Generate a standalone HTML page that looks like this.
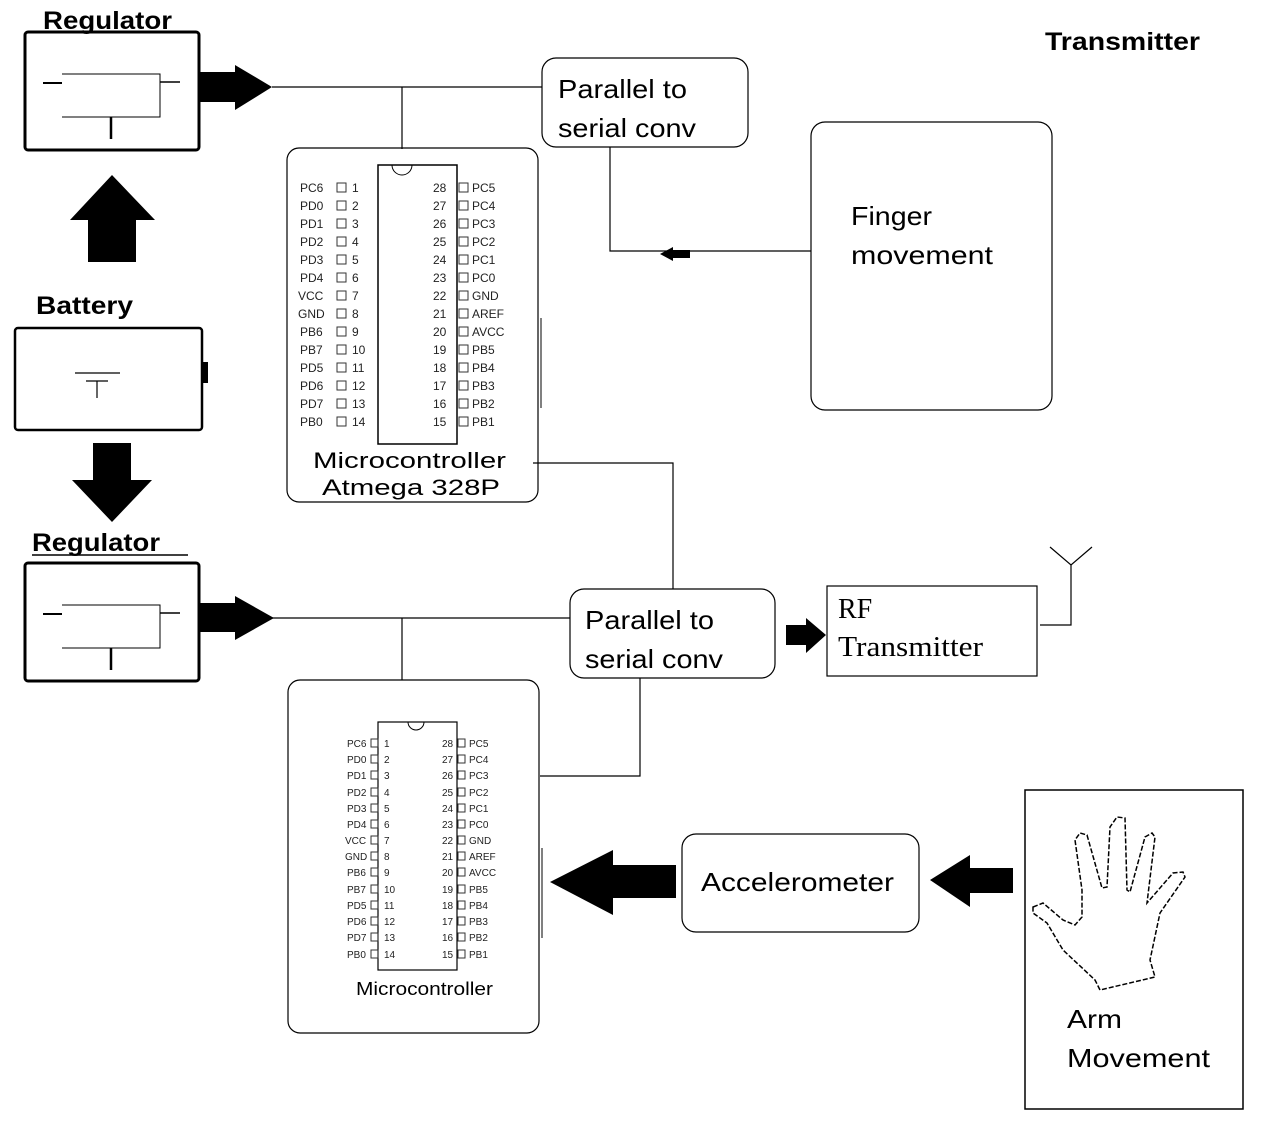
<!DOCTYPE html>
<html><head><meta charset="utf-8"><style>
html,body{margin:0;padding:0;background:#fff;}
svg{display:block;font-family:"Liberation Sans",sans-serif;}
.p1{font-size:12px;fill:#222;}
.p2{font-size:10px;fill:#222;}
</style></head><body>
<svg width="1274" height="1126" viewBox="0 0 1274 1126" xmlns="http://www.w3.org/2000/svg">
<rect width="1274" height="1126" fill="#fff"/>
<g fill="none" stroke="#000">
<rect x="25" y="32" width="174" height="118" rx="3" stroke-width="3"/>
<line x1="43" y1="83" x2="62" y2="83" stroke-width="2"/>
<path d="M62 74 H160 V117 H62" stroke-width="1"/>
<line x1="160" y1="82" x2="180" y2="82" stroke-width="1.5"/>
<line x1="111" y1="117" x2="111" y2="139" stroke-width="2.5"/>
<rect x="25" y="563" width="174" height="118" rx="3" stroke-width="3"/>
<line x1="43" y1="614" x2="62" y2="614" stroke-width="2"/>
<path d="M62 605 H160 V648 H62" stroke-width="1"/>
<line x1="160" y1="613" x2="180" y2="613" stroke-width="1.5"/>
<line x1="111" y1="648" x2="111" y2="670" stroke-width="2.5"/>
<line x1="32" y1="555" x2="188" y2="555" stroke-width="1.5"/>
<rect x="15" y="328" width="187" height="102" rx="3" stroke-width="2.5"/>
<line x1="75" y1="373" x2="120" y2="373" stroke-width="1.2"/>
<line x1="86" y1="381" x2="108" y2="381" stroke-width="1.2"/>
<line x1="97" y1="381" x2="97" y2="398" stroke-width="1.2"/>
<line x1="272" y1="87" x2="542" y2="87" stroke-width="1.2"/>
<line x1="402" y1="87" x2="402" y2="149" stroke-width="1.2"/>
<polyline points="610,147 610,251 811,251" stroke-width="1.2"/>
<polyline points="533,463 673,463 673,589" stroke-width="1.2"/>
<line x1="272" y1="618" x2="570" y2="618" stroke-width="1.2"/>
<line x1="402" y1="618" x2="402" y2="680" stroke-width="1.2"/>
<polyline points="640,678 640,776 540,776" stroke-width="1.2"/>
<polyline points="1040,625 1071,625 1071,565" stroke-width="1.2"/>
<polyline points="1050,547 1071,565 1092,547" stroke-width="1.2"/>
<rect x="542" y="58" width="206" height="89" rx="14" stroke-width="1.2"/>
<rect x="811" y="122" width="241" height="288" rx="14" stroke-width="1.2"/>
<rect x="287" y="148" width="251" height="354" rx="12" stroke-width="1.2"/>
<rect x="570" y="589" width="205" height="89" rx="14" stroke-width="1.2"/>
<rect x="827" y="586" width="210" height="90" stroke-width="1.2"/>
<rect x="288" y="680" width="251" height="353" rx="12" stroke-width="1.2"/>
<rect x="682" y="834" width="237" height="98" rx="14" stroke-width="1.2"/>
<rect x="1025" y="790" width="218" height="319" stroke-width="1.5"/>
<line x1="541" y1="318" x2="541" y2="408" stroke-width="1"/>
<line x1="542" y1="848" x2="542" y2="938" stroke-width="1"/>
<rect x="378" y="165" width="79" height="279" stroke-width="1.5"/>
<path d="M392 165 A10 10 0 0 0 412 165" stroke-width="1"/>
<rect x="378" y="722" width="79" height="248" stroke-width="1.2"/>
<path d="M408 722 A8 8 0 0 0 424 722" stroke-width="1"/>
<polygon stroke-width="1.5" stroke-dasharray="5,2" points="1033,907 1043,903 1063,920 1075,925 1082,917 1082,890 1075,840 1080,833 1087,835 1102,888 1107,887 1110,827 1117,817 1125,818 1127,890 1130,892 1145,837 1152,833 1155,837 1147,903 1173,873 1183,872 1185,877 1160,913 1150,960 1155,977 1100,990 1095,980 1063,950 1047,923 1033,913"/>
</g>
<g fill="none" stroke="#333" stroke-width="1">
<rect x="337" y="183" width="9" height="9"/><rect x="337" y="201" width="9" height="9"/><rect x="337" y="219" width="9" height="9"/><rect x="337" y="237" width="9" height="9"/><rect x="337" y="255" width="9" height="9"/><rect x="337" y="273" width="9" height="9"/><rect x="337" y="291" width="9" height="9"/><rect x="337" y="309" width="9" height="9"/><rect x="337" y="327" width="9" height="9"/><rect x="337" y="345" width="9" height="9"/><rect x="337" y="363" width="9" height="9"/><rect x="337" y="381" width="9" height="9"/><rect x="337" y="399" width="9" height="9"/><rect x="337" y="417" width="9" height="9"/>
<rect x="459" y="183" width="9" height="9"/><rect x="459" y="201" width="9" height="9"/><rect x="459" y="219" width="9" height="9"/><rect x="459" y="237" width="9" height="9"/><rect x="459" y="255" width="9" height="9"/><rect x="459" y="273" width="9" height="9"/><rect x="459" y="291" width="9" height="9"/><rect x="459" y="309" width="9" height="9"/><rect x="459" y="327" width="9" height="9"/><rect x="459" y="345" width="9" height="9"/><rect x="459" y="363" width="9" height="9"/><rect x="459" y="381" width="9" height="9"/><rect x="459" y="399" width="9" height="9"/><rect x="459" y="417" width="9" height="9"/>
</g>
<g fill="none" stroke="#333" stroke-width="1">
<rect x="371" y="739" width="7" height="8"/><rect x="371" y="755" width="7" height="8"/><rect x="371" y="771" width="7" height="8"/><rect x="371" y="788" width="7" height="8"/><rect x="371" y="804" width="7" height="8"/><rect x="371" y="820" width="7" height="8"/><rect x="371" y="836" width="7" height="8"/><rect x="371" y="852" width="7" height="8"/><rect x="371" y="868" width="7" height="8"/><rect x="371" y="885" width="7" height="8"/><rect x="371" y="901" width="7" height="8"/><rect x="371" y="917" width="7" height="8"/><rect x="371" y="933" width="7" height="8"/><rect x="371" y="950" width="7" height="8"/>
<rect x="458" y="739" width="7" height="8"/><rect x="458" y="755" width="7" height="8"/><rect x="458" y="771" width="7" height="8"/><rect x="458" y="788" width="7" height="8"/><rect x="458" y="804" width="7" height="8"/><rect x="458" y="820" width="7" height="8"/><rect x="458" y="836" width="7" height="8"/><rect x="458" y="852" width="7" height="8"/><rect x="458" y="868" width="7" height="8"/><rect x="458" y="885" width="7" height="8"/><rect x="458" y="901" width="7" height="8"/><rect x="458" y="917" width="7" height="8"/><rect x="458" y="933" width="7" height="8"/><rect x="458" y="950" width="7" height="8"/>
</g>
<g class="p1">
<text x="300" y="192">PC6</text><text x="300" y="210">PD0</text><text x="300" y="228">PD1</text><text x="300" y="246">PD2</text><text x="300" y="264">PD3</text><text x="300" y="282">PD4</text><text x="298" y="300">VCC</text><text x="298" y="318">GND</text><text x="300" y="336">PB6</text><text x="300" y="354">PB7</text><text x="300" y="372">PD5</text><text x="300" y="390">PD6</text><text x="300" y="408">PD7</text><text x="300" y="426">PB0</text>
<text x="352" y="192">1</text><text x="352" y="210">2</text><text x="352" y="228">3</text><text x="352" y="246">4</text><text x="352" y="264">5</text><text x="352" y="282">6</text><text x="352" y="300">7</text><text x="352" y="318">8</text><text x="352" y="336">9</text><text x="352" y="354">10</text><text x="352" y="372">11</text><text x="352" y="390">12</text><text x="352" y="408">13</text><text x="352" y="426">14</text>
<text x="433" y="192">28</text><text x="433" y="210">27</text><text x="433" y="228">26</text><text x="433" y="246">25</text><text x="433" y="264">24</text><text x="433" y="282">23</text><text x="433" y="300">22</text><text x="433" y="318">21</text><text x="433" y="336">20</text><text x="433" y="354">19</text><text x="433" y="372">18</text><text x="433" y="390">17</text><text x="433" y="408">16</text><text x="433" y="426">15</text>
<text x="472" y="192">PC5</text><text x="472" y="210">PC4</text><text x="472" y="228">PC3</text><text x="472" y="246">PC2</text><text x="472" y="264">PC1</text><text x="472" y="282">PC0</text><text x="472" y="300">GND</text><text x="472" y="318">AREF</text><text x="472" y="336">AVCC</text><text x="472" y="354">PB5</text><text x="472" y="372">PB4</text><text x="472" y="390">PB3</text><text x="472" y="408">PB2</text><text x="472" y="426">PB1</text>
</g>
<g class="p2">
<text x="347" y="747">PC6</text><text x="347" y="763">PD0</text><text x="347" y="779">PD1</text><text x="347" y="796">PD2</text><text x="347" y="812">PD3</text><text x="347" y="828">PD4</text><text x="345" y="844">VCC</text><text x="345" y="860">GND</text><text x="347" y="876">PB6</text><text x="347" y="893">PB7</text><text x="347" y="909">PD5</text><text x="347" y="925">PD6</text><text x="347" y="941">PD7</text><text x="347" y="958">PB0</text>
<text x="384" y="747">1</text><text x="384" y="763">2</text><text x="384" y="779">3</text><text x="384" y="796">4</text><text x="384" y="812">5</text><text x="384" y="828">6</text><text x="384" y="844">7</text><text x="384" y="860">8</text><text x="384" y="876">9</text><text x="384" y="893">10</text><text x="384" y="909">11</text><text x="384" y="925">12</text><text x="384" y="941">13</text><text x="384" y="958">14</text>
<text x="442" y="747">28</text><text x="442" y="763">27</text><text x="442" y="779">26</text><text x="442" y="796">25</text><text x="442" y="812">24</text><text x="442" y="828">23</text><text x="442" y="844">22</text><text x="442" y="860">21</text><text x="442" y="876">20</text><text x="442" y="893">19</text><text x="442" y="909">18</text><text x="442" y="925">17</text><text x="442" y="941">16</text><text x="442" y="958">15</text>
<text x="469" y="747">PC5</text><text x="469" y="763">PC4</text><text x="469" y="779">PC3</text><text x="469" y="796">PC2</text><text x="469" y="812">PC1</text><text x="469" y="828">PC0</text><text x="469" y="844">GND</text><text x="469" y="860">AREF</text><text x="469" y="876">AVCC</text><text x="469" y="893">PB5</text><text x="469" y="909">PB4</text><text x="469" y="925">PB3</text><text x="469" y="941">PB2</text><text x="469" y="958">PB1</text>
</g>
<g fill="#000">
<polygon points="199,72 235,72 235,65 272,87 235,110 235,102 199,102"/>
<polygon points="199,603 235,603 235,596 274,618 235,640 235,632 199,632"/>
<polygon points="70,220 112,175 155,220 136,220 136,262 88,262 88,220"/>
<polygon points="93,443 131,443 131,480 152,480 112,522 72,480 93,480"/>
<polygon points="660,254 673,247 673,250 690,250 690,258 673,258 673,261"/>
<polygon points="786,625 806,625 806,618 826,635 806,653 806,645 786,645"/>
<polygon points="550,882 613,850 613,865 676,865 676,898 613,898 613,915"/>
<polygon points="930,880 970,855 970,868 1013,868 1013,893 970,893 970,907"/>
<rect x="202" y="362" width="6" height="21"/>
</g>
<g font-family="'Liberation Sans',sans-serif" fill="#000">
<text x="43" y="29" font-size="25" font-weight="bold" textLength="129" lengthAdjust="spacingAndGlyphs">Regulator</text>
<text x="32" y="551" font-size="25" font-weight="bold" textLength="128" lengthAdjust="spacingAndGlyphs">Regulator</text>
<text x="36" y="314" font-size="25" font-weight="bold" textLength="97" lengthAdjust="spacingAndGlyphs">Battery</text>
<text x="1045" y="50" font-size="25" font-weight="bold" textLength="155" lengthAdjust="spacingAndGlyphs">Transmitter</text>
<text x="558" y="98" font-size="26" textLength="129" lengthAdjust="spacingAndGlyphs">Parallel to</text>
<text x="558" y="137" font-size="26" textLength="138" lengthAdjust="spacingAndGlyphs">serial conv</text>
<text x="585" y="629" font-size="26" textLength="129" lengthAdjust="spacingAndGlyphs">Parallel to</text>
<text x="585" y="668" font-size="26" textLength="138" lengthAdjust="spacingAndGlyphs">serial conv</text>
<text x="851" y="225" font-size="26" textLength="81" lengthAdjust="spacingAndGlyphs">Finger</text>
<text x="851" y="264" font-size="26" textLength="142" lengthAdjust="spacingAndGlyphs">movement</text>
<text x="701" y="891" font-size="26" textLength="193" lengthAdjust="spacingAndGlyphs">Accelerometer</text>
<text x="1067" y="1028" font-size="26" textLength="55" lengthAdjust="spacingAndGlyphs">Arm</text>
<text x="1067" y="1067" font-size="26" textLength="143" lengthAdjust="spacingAndGlyphs">Movement</text>
<text x="313" y="468" font-size="22" textLength="193" lengthAdjust="spacingAndGlyphs">Microcontroller</text>
<text x="322" y="495" font-size="22" textLength="178" lengthAdjust="spacingAndGlyphs">Atmega 328P</text>
<text x="356" y="995" font-size="18" textLength="137" lengthAdjust="spacingAndGlyphs">Microcontroller</text>
<text x="838" y="618" font-size="28" font-family="'Liberation Serif',serif">RF</text>
<text x="838" y="656" font-size="28" font-family="'Liberation Serif',serif" textLength="145" lengthAdjust="spacingAndGlyphs">Transmitter</text>
</g>
</svg>
</body></html>
